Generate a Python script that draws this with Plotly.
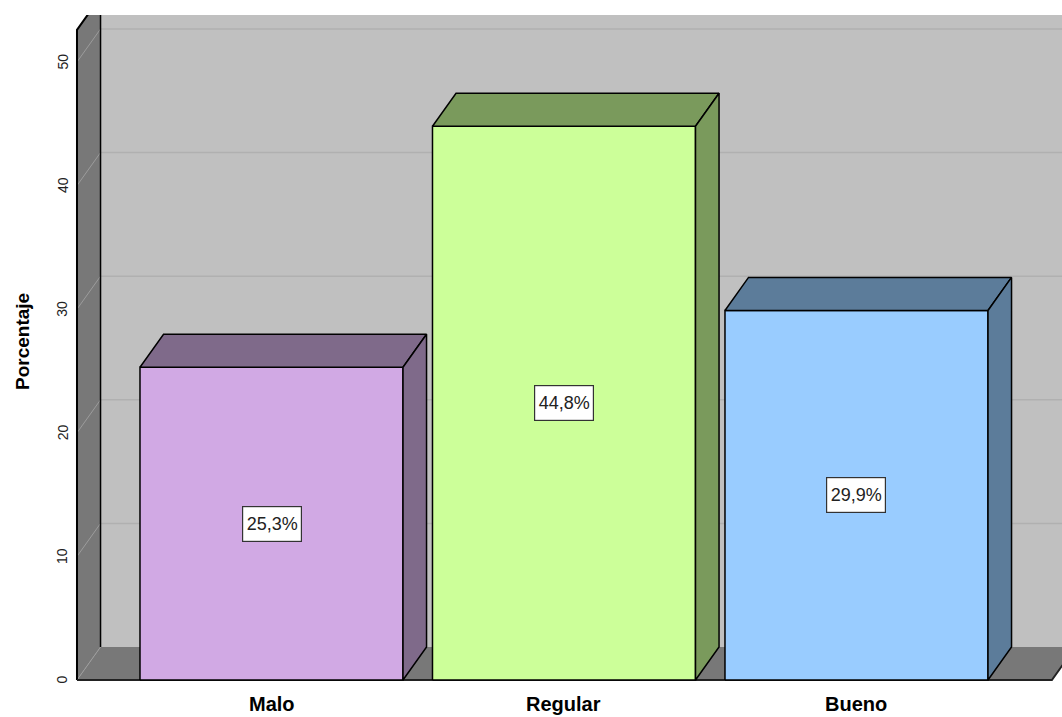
import plotly.graph_objects as go

# Data
categories = ["Malo", "Regular", "Bueno"]
percentages = [25.3, 44.8, 29.9]
value_labels = ["25,3%", "44,8%", "29,9%"]
y_ticks = [0, 10, 20, 30, 40, 50]

# Colours: front faces and shaded (top / side) faces
front_colors = ["#D1A9E4", "#CCFF99", "#99CCFF"]
shade_colors = ["#7F6A8A", "#7A9A5C", "#5C7C9A"]

# Pseudo-3D geometry (in axis units)
half_w = 0.4496        # half bar width
dx = 0.0805            # depth offset along x
dy = 2.67              # depth offset along y
wall_x = -0.665        # front edge of the left wall
floor_end = 2.668      # front right end of the floor
wall_top = 52.6
far_right = 3.0

x_range = [-0.9282, 2.7026]
y_range = [-2.99, 53.80]

WALL = "#C0C0C0"
SIDE_WALL = "#787878"

fig = go.Figure()


def poly(xs, ys, fill, line_color="black", line_width=1.5):
    fig.add_trace(go.Scatter(
        x=list(xs) + [xs[0]], y=list(ys) + [ys[0]],
        mode="lines", fill="toself", fillcolor=fill,
        line=dict(color=line_color, width=line_width),
        hoverinfo="skip", showlegend=False))


def seg(xs, ys, color, width):
    fig.add_trace(go.Scatter(
        x=xs, y=ys, mode="lines", line=dict(color=color, width=width),
        hoverinfo="skip", showlegend=False))


# Back wall
poly([wall_x + dx, far_right, far_right, wall_x + dx],
     [dy, dy, 70, 70], WALL, line_color=WALL, line_width=0)
for v in y_ticks[1:]:
    seg([wall_x + dx, far_right], [v + dy, v + dy], "#B0B0B0", 1.5)

# Left wall
poly([wall_x, wall_x, wall_x + dx, wall_x + dx],
     [0, wall_top, wall_top + dy, dy], SIDE_WALL, line_color=SIDE_WALL, line_width=0)
for v in y_ticks[1:]:
    seg([wall_x, wall_x + dx], [v, v + dy], "#9C9C9C", 1)

# Floor
poly([wall_x, floor_end, floor_end + dx, wall_x + dx],
     [0, 0, dy, dy], SIDE_WALL, line_color=SIDE_WALL, line_width=0)
seg([wall_x, wall_x + dx], [0, dy], "#9C9C9C", 1)

# Wall and floor edges
seg([wall_x, wall_x, wall_x + dx], [0, wall_top, wall_top + dy], "black", 2)
seg([wall_x + dx, wall_x + dx], [dy, 70], "black", 1.5)
seg([wall_x, floor_end, floor_end + dx], [0, 0, dy], "#222222", 2)

# Bars
for i, v in enumerate(percentages):
    x0, x1 = i - half_w, i + half_w
    # front face
    poly([x0, x1, x1, x0], [0, 0, v, v], front_colors[i])
    # top face
    poly([x0, x1, x1 + dx, x0 + dx], [v, v, v + dy, v + dy], shade_colors[i])
    # side face
    poly([x1, x1 + dx, x1 + dx, x1], [0, dy, v + dy, v], shade_colors[i])

annotations = []

# Value labels
for i, v in enumerate(percentages):
    annotations.append(dict(
        x=i, y=v / 2, xref="x", yref="y", text=value_labels[i], showarrow=False,
        font=dict(family="Liberation Sans, Arial", size=18, color="#222222"),
        bgcolor="white", bordercolor="#333333", borderwidth=1.2, borderpad=1,
        width=56, height=32, xanchor="center", yanchor="middle"))

# Category labels
for i, c in enumerate(categories):
    annotations.append(dict(
        x=i, y=-1.94, xref="x", yref="y", text=f"<b>{c}</b>", showarrow=False,
        font=dict(family="Liberation Sans, Arial", size=20, color="black"),
        xanchor="center", yanchor="middle"))

# Y tick labels
for v in y_ticks:
    annotations.append(dict(
        x=-0.7145, y=v, xref="x", yref="y", text=str(v), showarrow=False,
        textangle=-90,
        font=dict(family="Liberation Sans, Arial", size=14, color="#222222"),
        xanchor="center", yanchor="middle"))

# Axis title
annotations.append(dict(
    x=22 / 1062, y=1 - (342 - 15) / 702, xref="paper", yref="paper",
    text="<b>Porcentaje</b>", showarrow=False, textangle=-90,
    font=dict(family="Liberation Sans, Arial", size=19, color="black"),
    xanchor="center", yanchor="middle"))

fig.update_layout(
    width=1062, height=717,
    margin=dict(l=0, r=0, t=15, b=0),
    paper_bgcolor="white", plot_bgcolor="white",
    xaxis=dict(range=x_range, visible=False, fixedrange=True),
    yaxis=dict(range=y_range, visible=False, fixedrange=True),
    annotations=annotations,
    showlegend=False,
)

fig.write_html("out.html")
